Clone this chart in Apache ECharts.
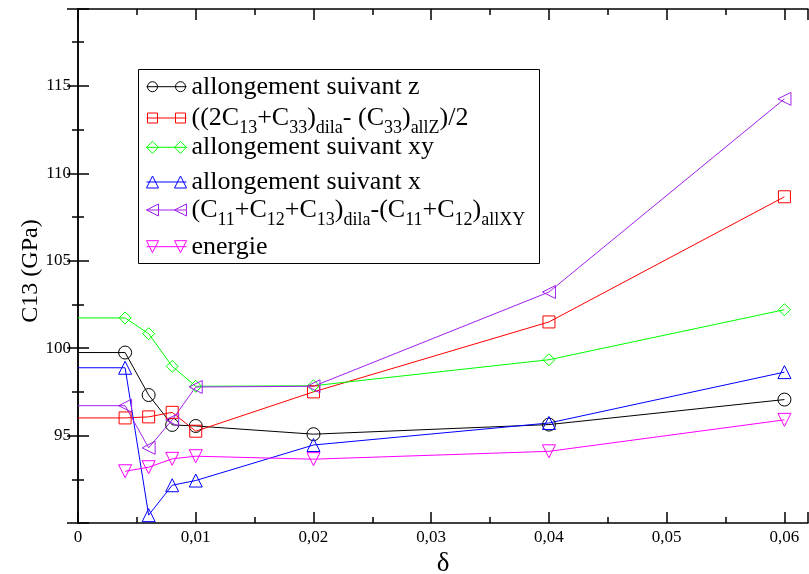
<!DOCTYPE html>
<html>
<head>
<meta charset="utf-8">
<script src="https://cdn.jsdelivr.net/npm/echarts@6/dist/echarts.min.js"></script>
<style>
html,body{margin:0;padding:0;background:#fff;}
#chart{width:809px;height:574px;}
</style>
</head>
<body>
<div id="chart"></div>
<script>
// ---- data ----
const deltas = [0, 0.004, 0.006, 0.008, 0.01, 0.02, 0.04, 0.06];
const allongZ   = [99.75, 99.75, 97.32, 95.61, 95.55, 95.08, 95.63, 97.06];
const formuleZ  = [96.01, 96.01, 96.07, 96.33, 95.25, 97.50, 101.50, 108.66];
const allongXY  = [101.73, 101.73, 100.83, 98.96, 97.82, 97.85, 99.34, 102.20];
const allongX   = [98.88, 98.88, 90.45, 92.16, 92.43, 94.46, 95.72, 98.63];
const formuleXY = [96.71, 96.71, 94.30, 95.90, 97.78, 97.82, 103.21, 114.26];
const energie   = [null, 92.96, 93.19, 93.67, 93.82, 93.65, 94.10, 95.90];

const seriesKeys = ['s1','s2','s3','s4','s5','s6'];
const legendLabels = [
  'allongement suivant z',
  '((2C{s|13}+C{s|33}){s|dila}- (C{s|33}){s|allZ})/2',
  'allongement suivant xy',
  'allongement suivant x',
  '(C{s|11}+C{s|12}+C{s|13}){s|dila}-(C{s|11}+C{s|12}){s|allXY}',
  'energie'
];
const xTickStep = 0.01;
const yTickStep = 5;

// ---- styles ----
const colors = ['#000000', '#ff0000', '#00ff00', '#0000ff', '#a020f0', '#ff00ff'];
const symbols = ['circle', 'rect', 'diamond', 'triangle', 'triangle', 'triangle'];
const rotations = [0, 0, 0, 0, 90, 180];
const sizes = [13, 12, 12, 13, 13, 13];
const valuesList = [allongZ, formuleZ, allongXY, allongX, formuleXY, energie];

// legend icon paths (box 40 x 12): two markers joined by a line
const iconPaths = [
  'path://M0,6L40,6M1,6A5,5 0 1,1 11,6A5,5 0 1,1 1,6ZM29,6A5,5 0 1,1 39,6A5,5 0 1,1 29,6Z',
  'path://M0,6L40,6M1,1L11,1L11,11L1,11ZM29,1L39,1L39,11L29,11Z',
  'path://M0,6L40,6M0,6L6,0L12,6L6,12ZM28,6L34,0L40,6L34,12Z',
  'path://M0,6L40,6M0,12L6,0L12,12ZM28,12L34,0L40,12Z',
  'path://M0,6L40,6M0,6L12,0L12,12ZM28,6L40,0L40,12Z',
  'path://M0,6L40,6M0,0L12,0L6,12ZM28,0L40,0L34,12Z'
];
const legendTops = [71.7, 103, 132.3, 167, 195, 231.7];

const FONT = 'Liberation Serif';

const series = valuesList.map((vals, i) => ({
  name: seriesKeys[i],
  type: 'line',
  xAxisIndex: 0,
  yAxisIndex: 0,
  symbol: symbols[i],
  symbolSize: sizes[i],
  symbolRotate: rotations[i],
  lineStyle: {color: colors[i], width: 1},
  itemStyle: {color: 'rgba(0,0,0,0)', borderColor: colors[i], borderWidth: 1},
  emphasis: {disabled: true},
  connectNulls: false,
  data: deltas.map((d, j) => {
    if (vals[j] === null) return null;
    if (d === 0) return {value: [d, vals[j]], symbol: 'none'};
    return [d, vals[j]];
  }).filter(p => p !== null)
}));

const legends = seriesKeys.map((k, i) => ({
  show: true,
  selectedMode: false,
  orient: 'vertical',
  left: 144,
  top: legendTops[i],
  padding: 0,
  itemWidth: 40,
  itemHeight: 12,
  data: [{
    name: k,
    icon: iconPaths[i],
    itemStyle: {color: 'none', borderColor: colors[i], borderWidth: 1}
  }],
  formatter: () => legendLabels[i],
  textStyle: {
    fontFamily: FONT, fontSize: 26, color: '#000', lineHeight: 30,
    rich: {
      s: {fontFamily: FONT, fontSize: 18, color: '#000', padding: [20, 0, 0, 0]}
    }
  }
}));

const axisCommon = {
  axisLine: {show: true, lineStyle: {color: '#000', width: 1.5}},
  axisTick: {show: true, inside: true, length: 11, lineStyle: {color: '#000', width: 1.5}},
  minorTick: {show: true, splitNumber: 2, length: 6, lineStyle: {color: '#000', width: 1.5}},
  splitLine: {show: false},
  minorSplitLine: {show: false}
};

const xRange = {min: 0, max: 0.062, interval: xTickStep};
const yRange = {min: 90, max: 119.4, interval: yTickStep};

const option = {
  animation: false,
  backgroundColor: '#fff',
  textStyle: {fontFamily: FONT},
  grid: {left: 78, right: 1, top: 9, bottom: 51, containLabel: false, outerBoundsMode: 'none'},
  legend: legends,
  graphic: [{
    type: 'rect', left: 138, top: 69, z: 3, silent: true,
    shape: {width: 401, height: 194},
    style: {fill: '#fff', stroke: '#000', lineWidth: 1}
  }],
  xAxis: [
    Object.assign({
      type: 'value', position: 'bottom',
      name: 'δ', nameLocation: 'middle', nameGap: 24,
      nameTextStyle: {fontFamily: FONT, fontSize: 27, color: '#000'},
      axisLabel: {
        show: true, margin: 6, fontFamily: FONT, fontSize: 17, color: '#000',
        showMaxLabel: false,
        formatter: v => v === 0 ? '0' : String(+v.toFixed(3)).replace('.', ',')
      }
    }, xRange, axisCommon),
    Object.assign({
      type: 'value', position: 'top', axisLabel: {show: false}
    }, xRange, axisCommon)
  ],
  yAxis: [
    Object.assign({
      type: 'value', position: 'left',
      name: 'C13 (GPa)', nameLocation: 'middle', nameGap: 35, nameRotate: 90,
      nameMoveOverlap: false,
      nameTextStyle: {fontFamily: FONT, fontSize: 24, color: '#000', padding: [0, 10, 0, 0]},
      axisLabel: {
        show: true, margin: 7, fontFamily: FONT, fontSize: 17, color: '#000',
        showMinLabel: false, showMaxLabel: false,
        formatter: v => String(Math.round(v))
      }
    }, yRange, axisCommon),
    Object.assign({
      type: 'value', position: 'right', axisLabel: {show: false}
    }, yRange, axisCommon)
  ],
  series: series
};

const chart = echarts.init(document.getElementById('chart'), null, {renderer: 'canvas'});
chart.setOption(option);
</script>
</body>
</html>
